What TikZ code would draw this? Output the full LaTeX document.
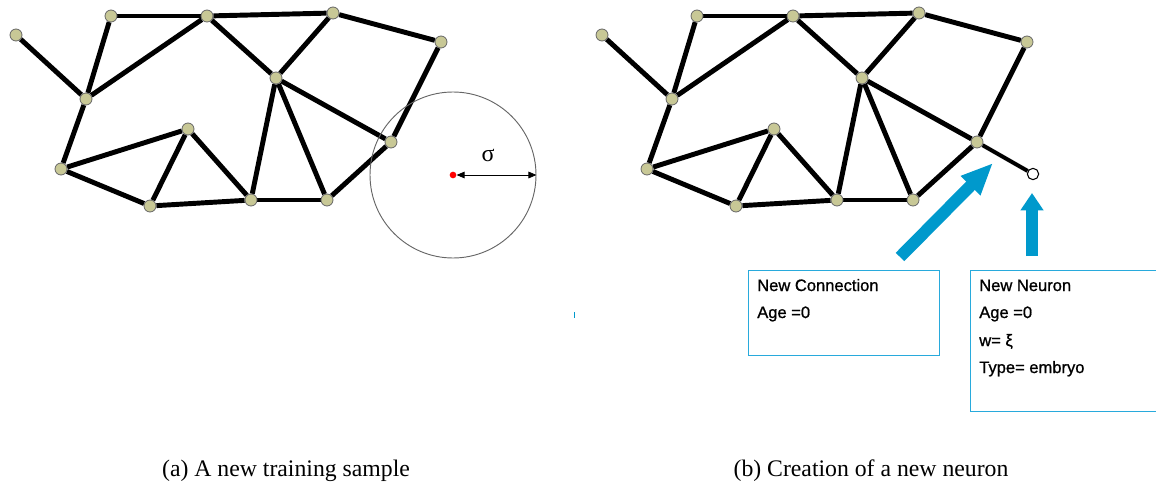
\documentclass[tikz,border=0pt]{standalone}
\usepackage{fontspec}
\setmainfont{Liberation Serif}
\newfontfamily\boxfont[FakeBold=1]{Liberation Sans}
\usetikzlibrary{arrows.meta}
\pgfdeclarelayer{background}
\pgfsetlayers{background,main}
\definecolor{nodefill}{RGB}{200,200,150}
\definecolor{arrowblue}{RGB}{0,153,204}
\definecolor{boxblue}{RGB}{40,170,220}
\begin{document}
\begin{tikzpicture}[x=0.75pt,y=-0.75pt,
  neuron/.style={circle,draw=black!60,fill=nodefill,line width=0.6pt,minimum size=9pt,inner sep=0pt},
  newneuron/.style={circle,draw=black,fill=white,line width=0.8pt,minimum size=8.5pt,inner sep=0pt},
  edge/.style={line width=3.7pt,black},
  bigarrow/.style={arrowblue,line width=9pt},
  infobox/.style={draw=boxblue,line width=1pt,anchor=north west,inner sep=0pt},
  infotext/.style={anchor=base west,inner sep=0pt,font=\boxfont\fontsize{12.4}{14}\selectfont},
  caption/.style={anchor=base,inner sep=0pt,font=\fontsize{17.8}{20}\selectfont}]
\useasboundingbox (0,0) rectangle (1156,485);

% two copies of the network
\foreach \p/\dx in {l/0,r/586}{
  \node[neuron] (\p A) at (16+\dx,35) {};
  \node[neuron] (\p B) at (111+\dx,16) {};
  \node[neuron] (\p C) at (207+\dx,16) {};
  \node[neuron] (\p D) at (333+\dx,13) {};
  \node[neuron] (\p E) at (441+\dx,42) {};
  \node[neuron] (\p F) at (276+\dx,78) {};
  \node[neuron] (\p G) at (86+\dx,99) {};
  \node[neuron] (\p H) at (188+\dx,129) {};
  \node[neuron] (\p I) at (391+\dx,142) {};
  \node[neuron] (\p J) at (61+\dx,169) {};
  \node[neuron] (\p K) at (150+\dx,206) {};
  \node[neuron] (\p L) at (251+\dx,200) {};
  \node[neuron] (\p M) at (327+\dx,200) {};
}
\node[newneuron] (rN) at (1033,174) {};

\begin{pgfonlayer}{background}
\foreach \p in {l,r}{
  \foreach \a/\b in {A/G,B/G,B/C,C/D,C/G,C/F,D/F,D/E,E/I,F/I,F/L,F/M,G/J,J/H,J/K,H/K,H/L,K/L,L/M,M/I}{
    \draw[edge] (\p\a) -- (\p\b);
  }
}
\draw[edge,line width=3pt] (rI) -- (rN);
\end{pgfonlayer}

% sample and its neighbourhood
\node[circle,draw=black!60,line width=0.7pt,minimum size=124.5pt,inner sep=0pt] (zone) at (453,175) {};
\node[circle,fill=red,minimum size=5pt,inner sep=0pt] (sample) at (453,175) {};
\draw[line width=0.6pt,{Triangle[length=6pt,width=5pt]}-{Triangle[length=6pt,width=5pt]}] (sample.east) -- (zone.east);
\node[inner sep=0pt,font=\fontsize{18}{18}\selectfont] (sigma) at (488,155) {σ};

% blue arrows
\coordinate (c1tail) at (900,257);
\coordinate (c1tip) at (993,163);
\coordinate (c2tail) at (1032,256);
\coordinate (c2tip) at (1032,193);
\draw[bigarrow,-{Triangle[length=24pt,width=19pt]}] (c1tail) -- (c1tip);
\draw[bigarrow,-{Triangle[length=13pt,width=16.5pt]}] (c2tail) -- (c2tip);
\fill[arrowblue] (573.5,312) rectangle (575,318);

% info boxes
\node[infobox,minimum width=143.25pt,minimum height=63.75pt] (connbox) at (748,270) {};
\node[infobox,minimum width=146pt,minimum height=105.75pt] (neurbox) at (970,270) {};
\node[infotext] (t1) at (757,291) {New Connection};
\node[infotext] (t2) at (757,318) {Age =0};
\node[infotext] (t3) at (979,291) {New Neuron};
\node[infotext] (t4) at (979,318) {Age =0};
\node[infotext] (t5) at (979,346) {w= ξ};
\node[infotext] (t6) at (979,373) {Type= embryo};

% captions
\node[caption] (capa) at (286,476) {(a) A new training sample};
\node[caption] (capb) at (871,476) {(b) Creation of a new neuron};
\end{tikzpicture}
\end{document}
